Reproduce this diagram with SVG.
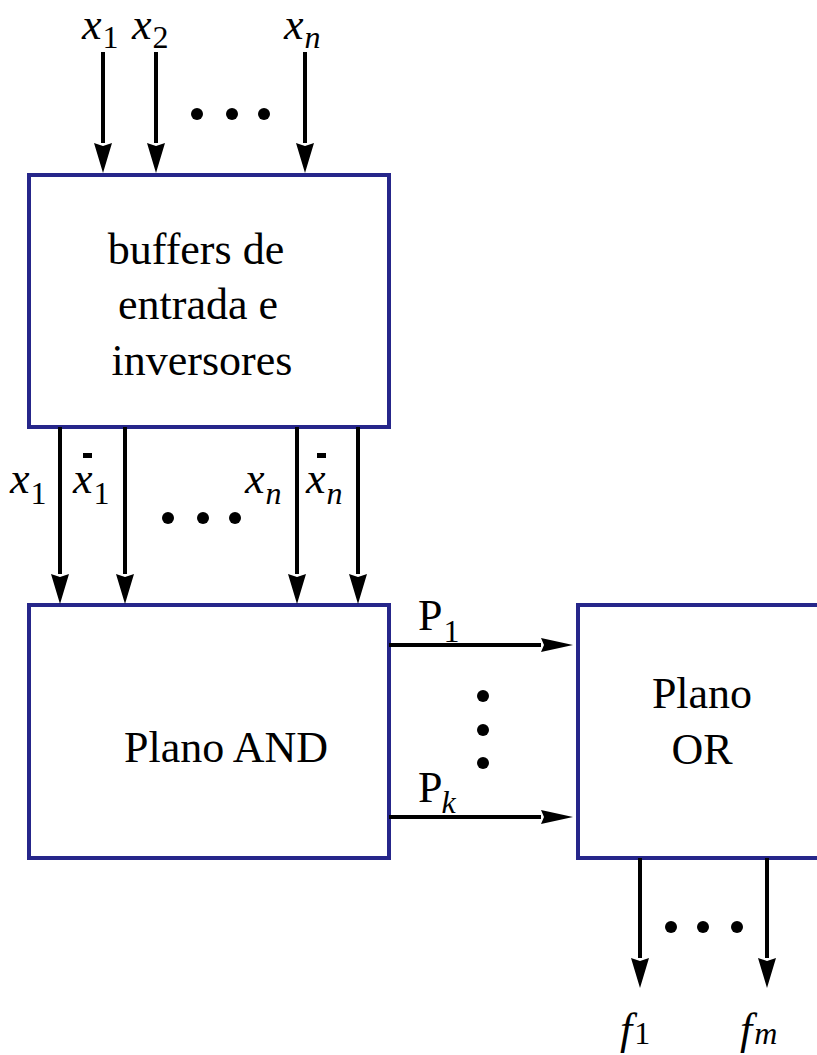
<svg xmlns="http://www.w3.org/2000/svg" width="817" height="1055" viewBox="0 0 817 1055">
<style>
.box{fill:#fff;stroke:#26268a;stroke-width:4}
.t{font-size:44px;fill:#000}
.i{font-style:italic}
.s{font-size:32px}
.ln{stroke:#000;stroke-width:4;fill:none}
.dot{fill:#000}
</style>
<defs>
<marker id="av" markerUnits="userSpaceOnUse" markerWidth="30" markerHeight="18" refX="0" refY="9" orient="auto" overflow="visible">
<path d="M0,0 L30,9 L0,18 L3,9 z" fill="#000"/>
</marker>
<marker id="ah" markerUnits="userSpaceOnUse" markerWidth="32" markerHeight="14" refX="0" refY="7" orient="auto" overflow="visible">
<path d="M0,0 L32,7 L0,14 L3,7 z" fill="#000"/>
</marker>
</defs>
<rect width="817" height="1055" fill="#fff"/>

<g font-family="'Liberation Serif', 'Times New Roman', serif">
<g id="buffers">
<rect class="box" x="29" y="175" width="360" height="252"/>
<text class="t" x="196" y="264" text-anchor="middle">buffers de</text>
<text class="t" x="198" y="319" text-anchor="middle">entrada e</text>
<text class="t" x="202" y="375" text-anchor="middle">inversores</text>
</g>

<g id="plano-and">
<rect class="box" x="29" y="605" width="360" height="253"/>
<text class="t" x="226" y="762" text-anchor="middle">Plano AND</text>
</g>

<g id="plano-or">
<rect class="box" x="578" y="605" width="260" height="253"/>
<text class="t" x="702" y="708" text-anchor="middle">Plano</text>
<text class="t" x="702" y="764" text-anchor="middle">OR</text>
</g>

<g id="connectors">
<line class="ln" x1="103" y1="52" x2="103" y2="143" marker-end="url(#av)"/>
<line class="ln" x1="156" y1="52" x2="156" y2="143" marker-end="url(#av)"/>
<line class="ln" x1="305" y1="52" x2="305" y2="143" marker-end="url(#av)"/>

<line class="ln" x1="60" y1="427" x2="60" y2="574" marker-end="url(#av)"/>
<line class="ln" x1="125" y1="427" x2="125" y2="574" marker-end="url(#av)"/>
<line class="ln" x1="297" y1="427" x2="297" y2="574" marker-end="url(#av)"/>
<line class="ln" x1="358" y1="427" x2="358" y2="574" marker-end="url(#av)"/>

<line class="ln" x1="389" y1="645" x2="541" y2="645" marker-end="url(#ah)"/>
<line class="ln" x1="389" y1="817" x2="541" y2="817" marker-end="url(#ah)"/>

<line class="ln" x1="640" y1="858" x2="640" y2="958" marker-end="url(#av)"/>
<line class="ln" x1="767" y1="858" x2="767" y2="958" marker-end="url(#av)"/>
</g>

<g id="labels">
<text class="t" x="82" y="39"><tspan class="i">x</tspan><tspan class="s" dy="9" dx="1">1</tspan></text>
<text class="t" x="132" y="39"><tspan class="i">x</tspan><tspan class="s" dy="9" dx="1">2</tspan></text>
<text class="t" x="284" y="39"><tspan class="i">x</tspan><tspan class="s i" dy="9" dx="1">n</tspan></text>

<text class="t" x="10" y="493"><tspan class="i">x</tspan><tspan class="s" dy="11" dx="1">1</tspan></text>
<rect x="83" y="453" width="9" height="5" fill="#000"/>
<text class="t" x="73" y="493"><tspan class="i">x</tspan><tspan class="s" dy="11" dx="1">1</tspan></text>
<text class="t" x="245" y="493"><tspan class="i">x</tspan><tspan class="s i" dy="11" dx="1">n</tspan></text>
<rect x="317" y="453" width="9" height="5" fill="#000"/>
<text class="t" x="306" y="493"><tspan class="i">x</tspan><tspan class="s i" dy="11" dx="1">n</tspan></text>

<text class="t" x="418" y="630">P<tspan class="s" dy="12" dx="1">1</tspan></text>
<text class="t" x="418" y="802">P<tspan class="s i" dy="11" dx="-1">k</tspan></text>

<text class="t" x="620" y="1044"><tspan class="i">f</tspan><tspan class="s" dx="2">1</tspan></text>
<text class="t" x="740" y="1044"><tspan class="i">f</tspan><tspan class="s i" dx="2">m</tspan></text>
</g>
</g>

<g id="dots">
<circle class="dot" cx="197" cy="114" r="6"/>
<circle class="dot" cx="232" cy="114" r="6"/>
<circle class="dot" cx="264" cy="114" r="6"/>
<circle class="dot" cx="168" cy="518" r="6"/>
<circle class="dot" cx="203" cy="518" r="6"/>
<circle class="dot" cx="235" cy="518" r="6"/>
<circle class="dot" cx="483" cy="696" r="6"/>
<circle class="dot" cx="483" cy="730" r="6"/>
<circle class="dot" cx="483" cy="763" r="6"/>
<circle class="dot" cx="671" cy="927" r="6"/>
<circle class="dot" cx="703" cy="927" r="6"/>
<circle class="dot" cx="737" cy="927" r="6"/>
</g>
</svg>
